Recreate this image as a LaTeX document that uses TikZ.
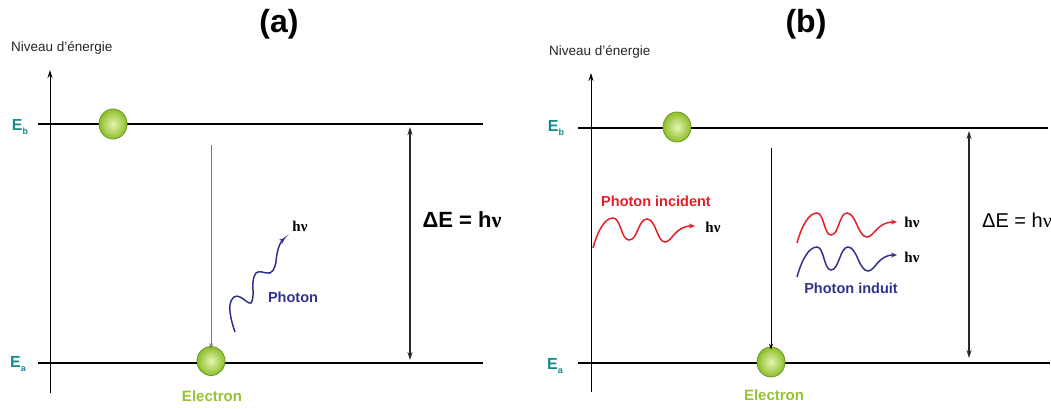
\documentclass[tikz,border=0pt]{standalone}
\usepackage{fontspec}
\setmainfont{Liberation Sans}
\newfontfamily\serifbf{Liberation Serif}
\usetikzlibrary{arrows.meta,shapes.geometric}
\definecolor{tealE}{RGB}{20,140,140}
\definecolor{elecin}{RGB}{230,245,180}
\definecolor{elecout}{RGB}{140,190,40}
\definecolor{elecbd}{RGB}{110,150,40}
\definecolor{electxt}{RGB}{150,195,50}
\definecolor{phblue}{RGB}{50,50,140}
\definecolor{phred}{RGB}{230,30,40}
\definecolor{grayarr}{RGB}{120,120,120}
\definecolor{dblarr}{RGB}{40,40,40}
\begin{document}
\begin{tikzpicture}[x=1pt,y=-1pt,
  level/.style={line width=1.8pt, black},
  axis/.style={line width=1pt, black, -{Stealth[length=8pt,width=5pt]}},
  electron/.style={ellipse, minimum width=28pt, minimum height=30pt, inner sep=0pt,
     draw=elecbd, line width=0.8pt, shading=radial, inner color=elecin, outer color=elecout},
  trans/.style={line width=0.8pt, -{Stealth[length=6pt,width=4pt]}},
  dbl/.style={line width=1.2pt, dblarr, {Stealth[length=8pt,width=5pt]}-{Stealth[length=8pt,width=5pt]}},
  elabel/.style={text=tealE, font=\fontsize{16}{18}\selectfont\bfseries, inner sep=0pt},
  title/.style={font=\fontsize{32}{36}\selectfont\bfseries, inner sep=0pt},
  niveau/.style={font=\fontsize{13.5}{16}\selectfont, text=black!85, inner sep=0pt, anchor=west},
  eltxt/.style={font=\fontsize{15}{18}\selectfont\bfseries, text=electxt, inner sep=0pt},
  phtxt/.style={font=\fontsize{14.5}{17}\selectfont\bfseries, inner sep=0pt},
  hnu/.style={font=\fontsize{15}{18}\selectfont\serifbf\bfseries, inner sep=0pt},
  delta/.style={font=\fontsize{20}{24}\selectfont, inner sep=0pt},
  wave/.style={line width=1.5pt, -{Stealth[length=6pt,width=5pt]}}
]
\useasboundingbox (0,0) rectangle (1051,408);
\fill[white] (0,0) rectangle (1051,408);

% ---------------- panel (a) ----------------
\node[title] (ta) at (279,24) {(a)};
\node[niveau] (na) at (11,48) {Niveau d'énergie};
\coordinate (aAxB) at (50,393);
\coordinate (aAxT) at (50,70);
\draw[axis] (aAxB) -- (aAxT);
\coordinate (aEbL) at (38,124); \coordinate (aEbR) at (483,124);
\coordinate (aEaL) at (38,363); \coordinate (aEaR) at (483,363);
\draw[level] (aEbL) -- (aEbR);
\draw[level] (aEaL) -- (aEaR);
\node[elabel] (aEb) at (20,127) {E\raisebox{-0.5ex}{\fontsize{9}{10}\selectfont b}};
\node[elabel] (aEa) at (18,364) {E\raisebox{-0.5ex}{\fontsize{9}{10}\selectfont a}};
\node[electron] (aE1) at (113,124) {};
\node[electron, minimum height=29pt] (aE2) at (211,361) {};
\coordinate (aT1) at (211,145);
\draw[trans, grayarr] (aT1) -- ([yshift=-3pt]aE2.north);
\node[eltxt] (aEl) at (212,396) {Electron};
\coordinate (aD1) at (410,127); \coordinate (aD2) at (410,360);
\draw[dbl] (aD1) -- (aD2);
\node[delta, font=\fontsize{22}{26}\selectfont\bfseries] (aDE) at (462,220) {ΔE = h{\serifbf ν}};
\draw[wave, phblue] plot[smooth, tension=0.7] coordinates {(235,332) (231,318) (230,305) (234,297) (240,297) (246,301) (251,303) (253,295) (253,282) (256,273) (262,272) (270,273) (275,266) (277,254) (280,244) (285,238)};
\node[hnu] (ahnu) at (300,226) {hν};
\node[phtxt, text=phblue] (aPh) at (293,297) {Photon};

% ---------------- panel (b) ----------------
\node[title] (tb) at (806,24) {(b)};
\node[niveau] (nb) at (549,52) {Niveau d'énergie};
\coordinate (bAxB) at (591,392);
\coordinate (bAxT) at (591,73);
\draw[axis] (bAxB) -- (bAxT);
\coordinate (bEbL) at (578,128); \coordinate (bEbR) at (1048,128);
\coordinate (bEaL) at (578,363); \coordinate (bEaR) at (1050,363);
\draw[level] (bEbL) -- (bEbR);
\draw[level] (bEaL) -- (bEaR);
\node[elabel] (bEb) at (556,128) {E\raisebox{-0.5ex}{\fontsize{9}{10}\selectfont b}};
\node[elabel] (bEa) at (555,366) {E\raisebox{-0.5ex}{\fontsize{9}{10}\selectfont a}};
\node[electron] (bE1) at (677,127) {};
\node[electron] (bE2) at (771,362) {};
\coordinate (bT1) at (771,148);
\draw[trans, black] (bT1) -- ([yshift=-3pt]bE2.north);
\node[eltxt] (bEl) at (774,395) {Electron};
\coordinate (bD1) at (969,131); \coordinate (bD2) at (969,358);
\draw[dbl] (bD1) -- (bD2);
\node[delta] (bDE) at (1017,220) {ΔE = h{\serifbf ν}};

\node[phtxt, text=phred] (bPi) at (656,201) {Photon incident};
\draw[wave, phred] (593,248) .. controls (598,230) and (605,218) .. (613,218)
   .. controls (621,218) and (621,240) .. (629,240)
   .. controls (638,240) and (638,219) .. (647,219)
   .. controls (656,219) and (657,242) .. (665,242)
   .. controls (672,242) and (675,226) .. (695,226);
\node[hnu] (bhnu1) at (713,227) {hν};

\draw[wave, phred] (797,243) .. controls (802,225) and (809,213) .. (817,213)
   .. controls (824,213) and (824,235) .. (831,235)
   .. controls (839,235) and (839,213) .. (847,213)
   .. controls (856,213) and (858,237) .. (867,237)
   .. controls (874,237) and (877,222) .. (897,222);
\node[hnu] (bhnu2) at (912,222) {hν};
\draw[wave, phblue] (797,277) .. controls (802,259) and (809,247) .. (817,247)
   .. controls (824,247) and (824,270) .. (831,270)
   .. controls (839,270) and (840,247) .. (848,247)
   .. controls (857,247) and (859,271) .. (868,271)
   .. controls (875,271) and (878,255) .. (897,255);
\node[hnu] (bhnu3) at (912,257) {hν};
\node[phtxt, text=phblue] (bPind) at (851,288) {Photon induit};
\end{tikzpicture}
\end{document}
